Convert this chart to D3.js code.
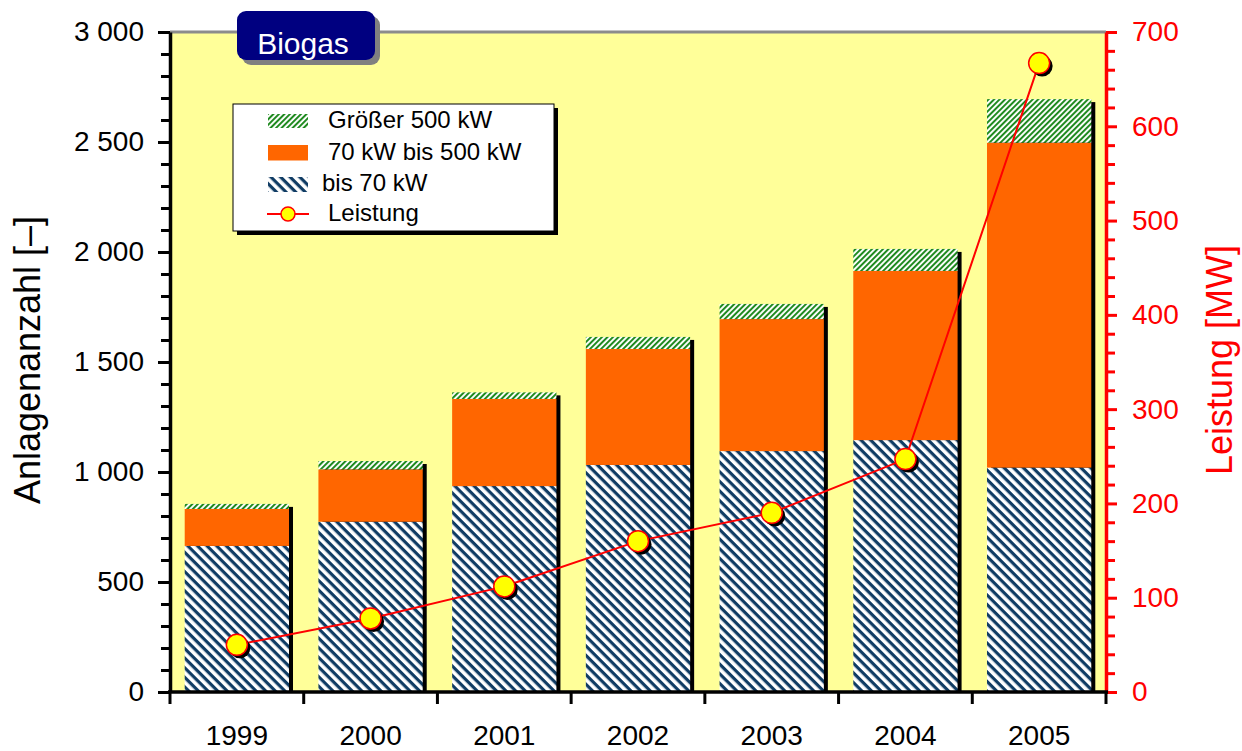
<!DOCTYPE html>
<html>
<head>
<meta charset="utf-8">
<script src="https://cdn.jsdelivr.net/npm/d3@7"></script>
<style>
  html, body { margin: 0; padding: 0; background: #ffffff; }
  svg { display: block; font-family: "Liberation Sans", Arial, sans-serif; }
</style>
</head>
<body>
<script>
// Biogas plants in Germany: number of plants by size class and installed capacity
const years = ["1999", "2000", "2001", "2002", "2003", "2004", "2005"];
const bis70 = [664, 774, 936, 1032, 1095, 1145, 1020];          // bis 70 kW
const kw70bis500 = [168, 238, 396, 527, 600, 769, 1477];        // 70 kW bis 500 kW
const groesser500 = [23, 38, 30, 55, 69, 100, 198];             // Größer 500 kW
const leistung = [50, 78, 112, 160, 190, 247, 667];             // Leistung [MW]

const leftTicks = [0, 500, 1000, 1500, 2000, 2500, 3000];
const rightTicks = [0, 100, 200, 300, 400, 500, 600, 700];

const legendLabels = ["Größer 500 kW", "70 kW bis 500 kW", "bis 70 kW", "Leistung"];
const titleText = "Biogas";
const leftTitle = "Anlagenanzahl [–]";
const rightTitle = "Leistung [MW]";

const W = 1242, H = 751;
const plot = { left: 170, right: 1106, top: 32, bottom: 692 };

const svg = d3.select("body").append("svg")
  .attr("width", W).attr("height", H);

// ---- hatch patterns ----
const defs = svg.append("defs");
function hatch(id, period, thick, color, angle) {
  const p = defs.append("pattern")
    .attr("id", id)
    .attr("patternUnits", "userSpaceOnUse")
    .attr("width", 20).attr("height", period)
    .attr("patternTransform", `rotate(${angle})`);
  p.append("rect").attr("width", 20).attr("height", period).attr("fill", "#ffffff");
  p.append("rect").attr("width", 20).attr("height", thick).attr("fill", color);
}
hatch("hatchBlue", 6.8, 3.2, "#103c64", 45);
hatch("hatchGreen", 3.9, 2.0, "#1f8a1f", -45);

// ---- scales ----
const x = d3.scaleBand().domain(years)
  .range([plot.left, plot.right])
  .paddingInner(0.22).paddingOuter(0.11);
const yL = d3.scaleLinear().domain([0, 3000]).range([plot.bottom, plot.top]);
const yR = d3.scaleLinear().domain([0, 700]).range([plot.bottom, plot.top]);

// ---- plot background ----
svg.append("rect")
  .attr("x", plot.left).attr("y", plot.top)
  .attr("width", plot.right - plot.left).attr("height", plot.bottom - plot.top)
  .attr("fill", "#ffff99");

// ---- stacked bars ----
const rows = years.map((y, i) => ({
  year: y, bis70: bis70[i], mid: kw70bis500[i], gross: groesser500[i]
}));
const keys = ["bis70", "mid", "gross"];
const fills = { bis70: "url(#hatchBlue)", mid: "#ff6600", gross: "url(#hatchGreen)" };
const stacked = d3.stack().keys(keys)(rows);
const totals = rows.map(r => r.bis70 + r.mid + r.gross);

// drop shadow behind each bar
svg.append("g").selectAll("rect").data(rows).join("rect")
  .attr("x", d => x(d.year) + 4)
  .attr("y", (d, i) => yL(totals[i]) + 3)
  .attr("width", x.bandwidth())
  .attr("height", (d, i) => plot.bottom - (yL(totals[i]) + 3))
  .attr("fill", "#000000");

svg.append("g").selectAll("g").data(stacked).join("g")
  .attr("fill", s => fills[s.key])
  .selectAll("rect").data(s => s).join("rect")
  .attr("x", d => x(d.data.year))
  .attr("y", d => yL(d[1]))
  .attr("width", x.bandwidth())
  .attr("height", d => yL(d[0]) - yL(d[1]));

// ---- capacity line ----
const cx = d => x(d.year) + x.bandwidth() / 2;
const pts = years.map((y, i) => ({ year: y, v: leistung[i] }));
svg.append("path")
  .datum(pts)
  .attr("d", d3.line().x(cx).y(d => yR(d.v)))
  .attr("fill", "none").attr("stroke", "#ff0000").attr("stroke-width", 2);
svg.append("g").selectAll("circle").data(pts).join("circle")
  .attr("cx", d => cx(d) + 3).attr("cy", d => yR(d.v) + 3).attr("r", 10.5)
  .attr("fill", "#000000");
svg.append("g").selectAll("circle").data(pts).join("circle")
  .attr("cx", cx).attr("cy", d => yR(d.v)).attr("r", 10.5)
  .attr("fill", "#ffff00").attr("stroke", "#ff0000").attr("stroke-width", 1.5);

// ---- top frame line ----
svg.append("line")
  .attr("x1", plot.left).attr("x2", plot.right)
  .attr("y1", plot.top).attr("y2", plot.top)
  .attr("stroke", "#8c8c8c").attr("stroke-width", 3);

// ---- left axis ----
const fmt = d3.formatLocale({ decimal: ",", thousands: " ", grouping: [3], currency: ["", "€"] }).format(",d");
const leftMinor = d3.range(0, 3001, 100).filter(v => v % 500 !== 0);
const gLm = svg.append("g").attr("transform", `translate(${plot.left},0)`)
  .call(d3.axisLeft(yL).tickValues(leftMinor).tickSize(9).tickFormat(""));
gLm.select(".domain").remove();
gLm.selectAll("line").attr("stroke", "#000").attr("stroke-width", 3);

const gL = svg.append("g").attr("transform", `translate(${plot.left},0)`)
  .call(d3.axisLeft(yL).tickValues(leftTicks).tickSize(12).tickSizeOuter(0).tickPadding(14).tickFormat(fmt));
gL.select(".domain").attr("stroke", "#000").attr("stroke-width", 3.5);
gL.selectAll("line").attr("stroke", "#000").attr("stroke-width", 3);
gL.selectAll("text").attr("font-size", 28).attr("fill", "#000")
  .attr("font-family", "'Liberation Sans', Arial, sans-serif");

// ---- right axis ----
const rightMinor = d3.range(0, 701, 20).filter(v => v % 100 !== 0);
const gRm = svg.append("g").attr("transform", `translate(${plot.right},0)`)
  .call(d3.axisRight(yR).tickValues(rightMinor).tickSize(9).tickFormat(""));
gRm.select(".domain").remove();
gRm.selectAll("line").attr("stroke", "#ff0000").attr("stroke-width", 3);

const gR = svg.append("g").attr("transform", `translate(${plot.right},0)`)
  .call(d3.axisRight(yR).tickValues(rightTicks).tickSize(11).tickSizeOuter(0).tickPadding(15).tickFormat(d3.format("d")));
gR.select(".domain").attr("stroke", "#ff0000").attr("stroke-width", 3.5);
gR.selectAll("line").attr("stroke", "#ff0000").attr("stroke-width", 3);
gR.selectAll("text").attr("font-size", 28).attr("fill", "#ff0000")
  .attr("font-family", "'Liberation Sans', Arial, sans-serif");

// ---- bottom axis: ticks at category boundaries, labels centred ----
const boundaries = d3.range(years.length + 1).map(i => plot.left + i * x.step());
const gB = svg.append("g");
gB.append("line")
  .attr("x1", plot.left - 2).attr("x2", plot.right + 2)
  .attr("y1", plot.bottom).attr("y2", plot.bottom)
  .attr("stroke", "#000").attr("stroke-width", 3.5);
gB.selectAll("line.tick").data(boundaries).join("line")
  .attr("class", "tick")
  .attr("x1", d => d).attr("x2", d => d)
  .attr("y1", plot.bottom).attr("y2", plot.bottom + 12)
  .attr("stroke", "#000").attr("stroke-width", 3);
gB.selectAll("text").data(years).join("text")
  .attr("x", d => x(d) + x.bandwidth() / 2)
  .attr("y", 745)
  .attr("text-anchor", "middle")
  .attr("font-size", 28).attr("fill", "#000")
  .text(d => d);

// ---- axis titles ----
svg.append("text")
  .attr("transform", "translate(40,360) rotate(-90)")
  .attr("text-anchor", "middle")
  .attr("font-size", 36).attr("fill", "#000")
  .text(leftTitle);
svg.append("text")
  .attr("transform", "translate(1232,360) rotate(-90)")
  .attr("text-anchor", "middle")
  .attr("font-size", 36).attr("fill", "#ff0000")
  .text(rightTitle);

// ---- legend ----
const lg = svg.append("g");
const box = { x: 233, y: 104, w: 321, h: 127 };
lg.append("rect").attr("x", box.x + 4).attr("y", box.y + 4)
  .attr("width", box.w).attr("height", box.h).attr("fill", "#000");
lg.append("rect").attr("x", box.x).attr("y", box.y)
  .attr("width", box.w).attr("height", box.h)
  .attr("fill", "#ffffff").attr("stroke", "#000").attr("stroke-width", 1);

const swatches = [
  { fill: "url(#hatchGreen)", y: 114, h: 14 },
  { fill: "#ff6600", y: 145, h: 15.5 },
  { fill: "url(#hatchBlue)", y: 177, h: 15 }
];
lg.selectAll("rect.sw").data(swatches).join("rect")
  .attr("class", "sw")
  .attr("x", 268).attr("y", d => d.y)
  .attr("width", 40).attr("height", d => d.h)
  .attr("fill", d => d.fill);
lg.append("line").attr("x1", 267).attr("x2", 309).attr("y1", 214).attr("y2", 214)
  .attr("stroke", "#ff0000").attr("stroke-width", 2);
lg.append("circle").attr("cx", 288).attr("cy", 214).attr("r", 7)
  .attr("fill", "#ffff00").attr("stroke", "#ff0000").attr("stroke-width", 1.5);

const legendPos = [
  { x: 328, y: 128 }, { x: 328, y: 159.5 }, { x: 322, y: 190.5 }, { x: 328, y: 221 }
];
lg.selectAll("text").data(legendLabels).join("text")
  .attr("x", (d, i) => legendPos[i].x).attr("y", (d, i) => legendPos[i].y)
  .attr("font-size", 24).attr("fill", "#000")
  .text(d => d);

// ---- title badge ----
const tb = svg.append("g");
tb.append("rect").attr("x", 242).attr("y", 16).attr("width", 138).attr("height", 49)
  .attr("rx", 9).attr("fill", "#808080");
tb.append("rect").attr("x", 237).attr("y", 11).attr("width", 138).attr("height", 49)
  .attr("rx", 9).attr("fill", "#000080");
tb.append("text").attr("x", 303).attr("y", 53.5)
  .attr("text-anchor", "middle")
  .attr("font-size", 30).attr("fill", "#ffffff")
  .text(titleText);
</script>
</body>
</html>
